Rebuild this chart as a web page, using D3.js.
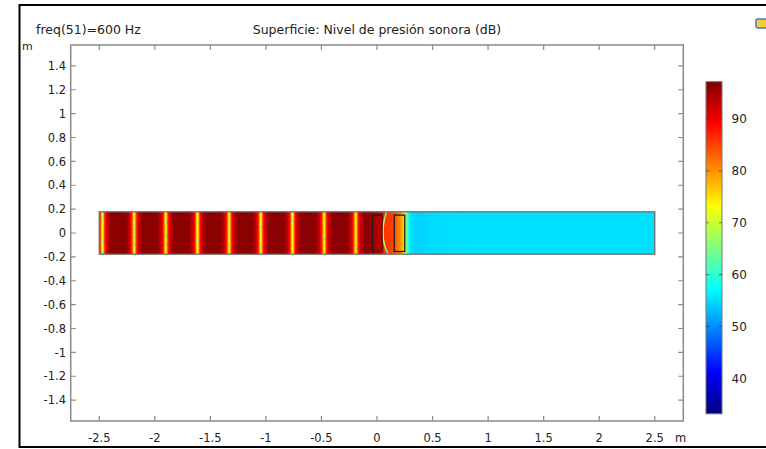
<!DOCTYPE html>
<html>
<head>
<meta charset="utf-8">
<script src="https://cdn.jsdelivr.net/npm/d3@7"></script>
<style>
  body { margin: 0; background: #fff; }
  text { font-family: "DejaVu Sans", sans-serif; fill: #222; }
</style>
</head>
<body>
<svg id="chart" width="766" height="449"></svg>
<script>
const svg = d3.select("#chart"),
  width = +svg.attr("width"),
  height = +svg.attr("height");

// tick labels
const xTicks = [-2.5, -2, -1.5, -1, -0.5, 0, 0.5, 1, 1.5, 2, 2.5];
const yTicks = [1.4, 1.2, 1, 0.8, 0.6, 0.4, 0.2, 0, -0.2, -0.4, -0.6, -0.8, -1, -1.2, -1.4];
const cbTicks = [40, 50, 60, 70, 80, 90];
const dbRange = [33.15, 97.2];

// geometry of the tube and the two blocks (m)
const tube = { x0: -2.5, x1: 2.5, y0: -0.1775, y1: 0.1775 };
const blocks = [
  { x0: -0.04, x1: 0.045, y0: -0.155, y1: 0.15 },
  { x0: 0.155, x1: 0.25, y0: -0.155, y1: 0.15 }
];

// pressure level minima (nodes) along the tube, m
const nodeX = [-2.471, -2.186, -1.901, -1.616, -1.331, -1.046, -0.761, -0.476, -0.191];
// level around a node: offset (m), dB
const nodeShape = [
  [-0.075, 96.5], [-0.045, 93], [-0.027, 89], [-0.016, 84], [-0.008, 76], [0, 72],
  [0.008, 76], [0.016, 84], [0.027, 89], [0.045, 93], [0.075, 96.5]
];
// level right of the last node: x (m), dB
const tailProfile = [
  [-0.115, 96.5], [-0.07, 96], [-0.04, 95], [0.0, 94.5], [0.04, 93], [0.05, 90],
  [0.065, 86], [0.12, 85.5], [0.16, 84], [0.2, 81], [0.235, 77], [0.25, 72],
  [0.265, 65], [0.285, 58], [0.31, 55], [0.37, 54.3], [0.47, 55], [0.8, 55.3], [2.5, 55.3]
];
// curved front between the blocks: x, y (m), dB
const front = [[0.085, 0.177, 60], [0.06, 0.1, 68], [0.05, 0, 73], [0.062, -0.1, 68], [0.1, -0.177, 60]];
// numerical noise spots inside the nodes: x, y (m)
const spots = [
  [-2.471, 0.13], [-2.471, -0.06], [-2.471, -0.16], [-2.186, 0.03], [-2.186, -0.035], [-2.186, -0.1],
  [-1.901, 0.09], [-1.901, -0.02], [-1.901, -0.1], [-1.616, 0.08], [-1.616, -0.06],
  [-1.331, 0.08], [-1.331, -0.12], [-1.046, 0.05], [-1.046, -0.12], [-0.761, 0.1], [-0.476, -0.05], [-0.191, -0.13]
];

const x = d3.scaleLinear().domain([-2.757, 2.757]).range([70.7, 683.3]);
const y = d3.scaleLinear().domain([-1.575, 1.575]).range([421, 45]);

// COMSOL rainbow (jet-like)
const jet = d3.scaleLinear()
  .domain([0, 0.125, 0.375, 0.625, 0.875, 1])
  .range(["#000080", "#0000ff", "#00ffff", "#ffff00", "#ff0000", "#800000"])
  .clamp(true);
const color = v => jet((v - dbRange[0]) / (dbRange[1] - dbRange[0]));

const defs = svg.append("defs");

// outer border of the screenshot
svg.append("path")
  .attr("d", `M${width},5 H19.5 V447 H${width}`)
  .attr("fill", "none").attr("stroke", "#000").attr("stroke-width", 2);

// little toolbar icon at top right
svg.append("rect")
  .attr("x", 756).attr("y", 19).attr("width", 12).attr("height", 9).attr("rx", 2)
  .attr("fill", "#f2cf3a").attr("stroke", "#4a78c0").attr("stroke-width", 1.5);

// titles
svg.append("text").attr("x", 36).attr("y", 34).style("font-size", "12.5px").text("freq(51)=600 Hz");
svg.append("text").attr("x", (x.range()[0] + x.range()[1]) / 2).attr("y", 34)
  .attr("text-anchor", "middle").style("font-size", "12.5px")
  .text("Superficie: Nivel de presión sonora (dB)");

// --- surface along the tube ---
let stops = [];
nodeX.forEach(n => nodeShape.forEach(([o, v]) => stops.push([n + o, v])));
tailProfile.forEach(p => stops.push(p));
stops = stops.filter(s => s[0] >= tube.x0 && s[0] <= tube.x1).sort((a, b) => a[0] - b[0]);

const grad = defs.append("linearGradient")
  .attr("id", "tubeGrad")
  .attr("gradientUnits", "userSpaceOnUse")
  .attr("x1", x(tube.x0)).attr("x2", x(tube.x1)).attr("y1", 0).attr("y2", 0);
grad.selectAll("stop").data(stops).enter().append("stop")
  .attr("offset", d => (d[0] - tube.x0) / (tube.x1 - tube.x0))
  .attr("stop-color", d => color(d[1]));

const field = svg.append("g").attr("class", "field");

field.append("rect")
  .attr("x", x(tube.x0)).attr("y", y(tube.y1))
  .attr("width", x(tube.x1) - x(tube.x0)).attr("height", y(tube.y0) - y(tube.y1))
  .attr("fill", "url(#tubeGrad)");

// curved front
const fgrad = defs.append("linearGradient")
  .attr("id", "frontGrad")
  .attr("gradientUnits", "userSpaceOnUse")
  .attr("x1", 0).attr("x2", 0).attr("y1", y(tube.y1)).attr("y2", y(tube.y0));
fgrad.selectAll("stop").data(front).enter().append("stop")
  .attr("offset", d => (tube.y1 - d[1]) / (tube.y1 - tube.y0))
  .attr("stop-color", d => color(d[2]));

field.append("path")
  .datum(front)
  .attr("d", d3.line().x(d => x(d[0])).y(d => y(d[1])).curve(d3.curveBasis))
  .attr("fill", "none").attr("stroke", "url(#frontGrad)").attr("stroke-width", 1.5);

field.selectAll("rect.spot").data(spots).enter().append("rect")
  .attr("class", "spot")
  .attr("x", d => x(d[0]) - 1).attr("y", d => y(d[1]) - 1)
  .attr("width", 2).attr("height", 2)
  .attr("fill", color(58)).attr("opacity", 0.75);

// tube outline and blocks
field.append("rect")
  .attr("x", x(tube.x0)).attr("y", y(tube.y1))
  .attr("width", x(tube.x1) - x(tube.x0)).attr("height", y(tube.y0) - y(tube.y1))
  .attr("fill", "none").attr("stroke", "#6e6e6e").attr("stroke-width", 1.3);

field.selectAll("rect.block").data(blocks).enter().append("rect")
  .attr("class", "block")
  .attr("x", d => x(d.x0)).attr("y", d => y(d.y1))
  .attr("width", d => x(d.x1) - x(d.x0)).attr("height", d => y(d.y0) - y(d.y1))
  .attr("fill", "none").attr("stroke", "#1a1a1a").attr("stroke-width", 1.3);

// --- axes frame with inward ticks ---
const axisG = svg.append("g").attr("class", "axes");
const tk = 5;
const [xl, xr] = x.range(), [yb, yt] = y.range();

axisG.append("rect")
  .attr("x", xl).attr("y", yt).attr("width", xr - xl).attr("height", yb - yt)
  .attr("fill", "none").attr("stroke", "#8a8a8a").attr("stroke-width", 1.5);

axisG.selectAll("path.xt").data(xTicks).enter().append("path")
  .attr("class", "xt")
  .attr("d", d => `M${x(d)},${yb}v${-tk}M${x(d)},${yt}v${tk}`)
  .attr("stroke", "#8a8a8a").attr("stroke-width", 1.2);
axisG.selectAll("path.yt").data(yTicks).enter().append("path")
  .attr("class", "yt")
  .attr("d", d => `M${xl},${y(d)}h${tk}M${xr},${y(d)}h${-tk}`)
  .attr("stroke", "#8a8a8a").attr("stroke-width", 1.2);

axisG.selectAll("text.xl").data(xTicks).enter().append("text")
  .attr("class", "xl")
  .attr("x", d => x(d)).attr("y", 442).attr("text-anchor", "middle")
  .style("font-size", "11.5px").text(d => d);
axisG.selectAll("text.yl").data(yTicks).enter().append("text")
  .attr("class", "yl")
  .attr("x", 66).attr("y", d => y(d)).attr("dy", "0.36em").attr("text-anchor", "end")
  .style("font-size", "11.5px").text(d => d);

axisG.append("text").attr("x", 675).attr("y", 442).style("font-size", "11.5px").text("m");
axisG.append("text").attr("x", 22).attr("y", 50).style("font-size", "11px").text("m");

// --- colour bar ---
const cb = d3.scaleLinear().domain(dbRange).range([413.8, 81.7]);
const cbX = 706, cbW = 16;

const cgrad = defs.append("linearGradient")
  .attr("id", "cbGrad").attr("x1", 0).attr("x2", 0).attr("y1", 1).attr("y2", 0);
cgrad.selectAll("stop").data(d3.range(0, 1.0001, 0.025)).enter().append("stop")
  .attr("offset", d => d)
  .attr("stop-color", d => jet(d));

const cbG = svg.append("g").attr("class", "colorbar");
cbG.append("rect")
  .attr("x", cbX).attr("y", cb(dbRange[1]))
  .attr("width", cbW).attr("height", cb(dbRange[0]) - cb(dbRange[1]))
  .attr("fill", "url(#cbGrad)").attr("stroke", "#777").attr("stroke-width", 1);

cbG.selectAll("path.cbt").data(cbTicks).enter().append("path")
  .attr("class", "cbt")
  .attr("d", d => `M${cbX},${cb(d)}h3M${cbX + cbW},${cb(d)}h-3`)
  .attr("stroke", "#333").attr("stroke-opacity", 0.6).attr("stroke-width", 1.2);

cbG.selectAll("text.cbl").data(cbTicks).enter().append("text")
  .attr("class", "cbl")
  .attr("x", 731.5).attr("y", d => cb(d)).attr("dy", "0.36em")
  .style("font-size", "12px").text(d => d);
</script>
</body>
</html>
